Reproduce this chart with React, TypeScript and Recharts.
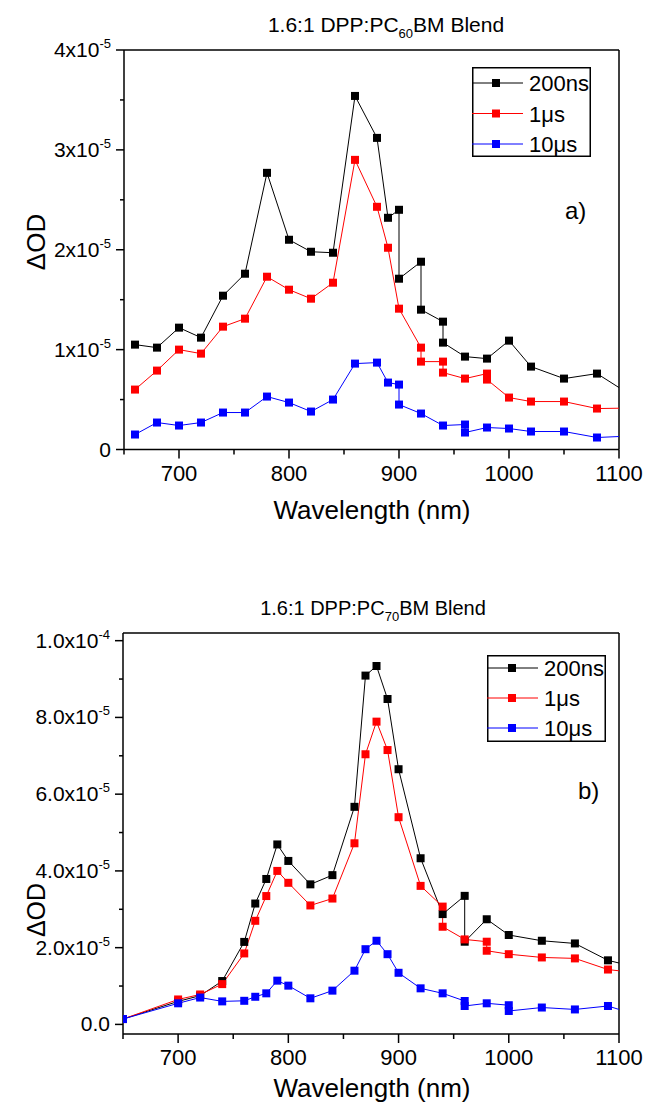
import React from 'react';
import { LineChart, Line, XAxis, YAxis, ReferenceLine, Legend } from 'recharts';

const FONT = '"Liberation Sans", Arial, sans-serif';

// ---- panel a) PC60BM, wavelength in nm, ΔOD in units of 1e-5 ----
const wlA200ns = [660, 680, 700, 720, 740, 760, 780, 800, 820, 840, 860, 880, 890, 900, 900, 920, 920, 940, 940, 960, 980, 1000, 1020, 1050, 1080, 1110];
const odA200ns = [1.05, 1.02, 1.22, 1.12, 1.54, 1.76, 2.77, 2.10, 1.98, 1.97, 3.54, 3.12, 2.32, 2.40, 1.71, 1.88, 1.40, 1.28, 1.07, 0.93, 0.91, 1.09, 0.83, 0.71, 0.76, 0.55];
const wlA1us = [660, 680, 700, 720, 740, 760, 780, 800, 820, 840, 860, 880, 890, 900, 920, 920, 940, 940, 960, 980, 980, 1000, 1020, 1050, 1080, 1110];
const odA1us = [0.60, 0.79, 1.00, 0.96, 1.23, 1.31, 1.73, 1.60, 1.51, 1.67, 2.90, 2.43, 2.02, 1.41, 1.02, 0.88, 0.88, 0.77, 0.71, 0.76, 0.70, 0.52, 0.48, 0.48, 0.41, 0.415];
const wlA10us = [660, 680, 700, 720, 740, 760, 780, 800, 820, 840, 860, 880, 890, 900, 900, 920, 940, 960, 960, 980, 1000, 1020, 1050, 1080, 1110];
const odA10us = [0.15, 0.27, 0.24, 0.27, 0.37, 0.37, 0.53, 0.47, 0.38, 0.50, 0.86, 0.87, 0.67, 0.65, 0.45, 0.36, 0.24, 0.25, 0.17, 0.22, 0.21, 0.18, 0.18, 0.12, 0.135];

// ---- panel b) PC70BM ----
const wlB200ns = [650, 700, 720, 740, 760, 770, 780, 790, 800, 820, 840, 860, 870, 880, 890, 900, 920, 940, 960, 960, 980, 1000, 1030, 1060, 1090, 1120];
const odB200ns = [0.14, 0.60, 0.75, 1.13, 2.15, 3.15, 3.79, 4.69, 4.26, 3.65, 3.89, 5.67, 9.09, 9.34, 8.48, 6.65, 4.33, 2.875, 3.35, 2.155, 2.74, 2.33, 2.18, 2.11, 1.67, 1.46];
const wlB1us = [650, 700, 720, 740, 760, 770, 780, 790, 800, 820, 840, 860, 870, 880, 890, 900, 920, 940, 940, 960, 980, 980, 1000, 1030, 1060, 1090, 1120];
const odB1us = [0.14, 0.65, 0.78, 1.05, 1.85, 2.70, 3.345, 4.00, 3.69, 3.10, 3.28, 4.72, 7.04, 7.89, 7.15, 5.40, 3.61, 3.07, 2.545, 2.215, 2.155, 1.92, 1.83, 1.745, 1.72, 1.43, 1.33];
const wlB10us = [650, 700, 720, 740, 760, 770, 780, 790, 800, 820, 840, 860, 870, 880, 890, 900, 920, 940, 960, 960, 980, 1000, 1000, 1030, 1060, 1090, 1120];
const odB10us = [0.14, 0.55, 0.70, 0.60, 0.615, 0.72, 0.81, 1.14, 1.01, 0.68, 0.88, 1.40, 1.96, 2.18, 1.83, 1.345, 0.94, 0.81, 0.61, 0.48, 0.55, 0.50, 0.35, 0.44, 0.39, 0.48, 0.21];

const seriesNames = ['200ns', '1μs', '10μs'];
const seriesColors = ['#000000', '#ff0000', '#0000ff'];

// ---- ticks ----
const xTicks = [650, 700, 750, 800, 850, 900, 950, 1000, 1050, 1100];
const xMajor = [700, 800, 900, 1000, 1100];
const yTicksA = [0, 0.5, 1, 1.5, 2, 2.5, 3, 3.5, 4];
const yMajorA = [0, 1, 2, 3, 4];
const yBaseA = ['0', '1x10', '2x10', '3x10', '4x10'];
const yExpA = ['', '-5', '-5', '-5', '-5'];
const yTicksB = [0, 1, 2, 3, 4, 5, 6, 7, 8, 9, 10];
const yMajorB = [0, 2, 4, 6, 8, 10];
const yBaseB = ['0.0', '2.0x10', '4.0x10', '6.0x10', '8.0x10', '1.0x10'];
const yExpB = ['', '-5', '-5', '-5', '-5', '-4'];

const toPoints = (wl: number[], od: number[]) => wl.map((w, i) => ({ w, od: od[i] }));

const squareDot = (color: string) => (p: any) => {
  if (p.cx == null || p.cy == null) return <g key={p.index} />;
  return <rect key={p.index} x={p.cx - 4} y={p.cy - 4} width={8} height={8} fill={color} />;
};

const XTick = (props: any) => {
  const { x, y, payload } = props;
  const major = xMajor.includes(payload.value);
  return (
    <g>
      <line x1={x} x2={x} y1={y} y2={y + (major ? 9 : 5)} stroke="#000" strokeWidth={1.5} />
      {major && (
        <text x={x} y={y + 31} textAnchor="middle" fontSize={22} fontFamily={FONT} fill="#000">
          {payload.value}
        </text>
      )}
    </g>
  );
};

const makeYTick = (majors: number[], bases: string[], exps: string[]) => (props: any) => {
  const { x, y, payload } = props;
  const i = majors.indexOf(payload.value);
  return (
    <g>
      <line x1={x - (i >= 0 ? 8 : 4)} x2={x} y1={y} y2={y} stroke="#000" strokeWidth={1.5} />
      {i >= 0 && (
        <text x={x - 13} y={y + 7} textAnchor="end" fontSize={21} fontFamily={FONT} fill="#000">
          {bases[i]}
          {exps[i] && <tspan dy={-9} fontSize={13}>{exps[i]}</tspan>}
        </text>
      )}
    </g>
  );
};

interface LegendPos {
  left: number;
  top: number;
  width: number;
  height: number;
  rows: number[];
  lineEnd: number;
  marker: number;
  textX: number;
}

// legend rows follow the series order (200ns, 1μs, 10μs)
const renderLegend = (pos: LegendPos) => () => (
  <svg width={pos.width} height={pos.height} style={{ display: 'block' }}>
    <rect x={0.75} y={0.75} width={pos.width - 1.5} height={pos.height - 1.5} fill="#fff" stroke="#000" strokeWidth={1.5} />
    {seriesNames.map((name, i) => (
      <g key={name}>
        <line x1={0} x2={pos.lineEnd} y1={pos.rows[i]} y2={pos.rows[i]} stroke={seriesColors[i]} strokeWidth={1} />
        <rect x={pos.marker - 4} y={pos.rows[i] - 4} width={8} height={8} fill={seriesColors[i]} />
        <text x={pos.textX} y={pos.rows[i] + 8} fontSize={22} fontFamily={FONT} fill="#000">
          {name}
        </text>
      </g>
    ))}
  </svg>
);

interface PanelProps {
  data: { w: number; od: number }[][];
  yDomain: [number, number];
  yTicks: number[];
  yTick: (p: any) => React.ReactElement;
  margin: { top: number; right: number; bottom: number; left: number };
  yAxisWidth: number;
  xAxisHeight: number;
  legend: LegendPos;
}

const Panel: React.FC<PanelProps> = ({ data, yDomain, yTicks, yTick, margin, yAxisWidth, xAxisHeight, legend }) => (
  <LineChart width={646} height={555} margin={margin}>
    <XAxis
      dataKey="w"
      type="number"
      domain={[650, 1100]}
      allowDataOverflow
      ticks={xTicks}
      interval={0}
      tickSize={0}
      tickMargin={0}
      tickLine={false}
      tick={XTick}
      height={xAxisHeight}
      axisLine={{ stroke: '#000', strokeWidth: 1.5 }}
    />
    <YAxis
      dataKey="od"
      type="number"
      domain={yDomain}
      allowDataOverflow
      ticks={yTicks}
      interval={0}
      tickSize={0}
      tickMargin={0}
      tickLine={false}
      tick={yTick}
      width={yAxisWidth}
      axisLine={{ stroke: '#000', strokeWidth: 1.5 }}
    />
    <ReferenceLine y={yDomain[1]} stroke="#000" strokeWidth={1.5} />
    <ReferenceLine x={1100} stroke="#000" strokeWidth={1.5} />
    {data.map((pts, i) => (
      <Line
        key={seriesNames[i]}
        data={pts}
        dataKey="od"
        name={seriesNames[i]}
        type="linear"
        stroke={seriesColors[i]}
        strokeWidth={1}
        dot={squareDot(seriesColors[i])}
        activeDot={false}
        isAnimationActive={false}
      />
    ))}
    <Legend
      layout="vertical"
      align="center"
      verticalAlign="middle"
      content={renderLegend(legend)}
      wrapperStyle={{ left: legend.left, top: legend.top, width: legend.width, height: legend.height }}
    />
  </LineChart>
);

export default function App() {
  const dataA = [toPoints(wlA200ns, odA200ns), toPoints(wlA1us, odA1us), toPoints(wlA10us, odA10us)];
  const dataB = [toPoints(wlB200ns, odB200ns), toPoints(wlB1us, odB1us), toPoints(wlB10us, odB10us)];

  return (
    <div style={{ position: 'absolute', left: 0, top: 0, width: 646, height: 1110, background: '#fff', fontFamily: FONT }}>
      <div style={{ position: 'absolute', left: 0, top: 0 }}>
        <Panel
          data={dataA}
          yDomain={[0, 4]}
          yTicks={yTicksA}
          yTick={makeYTick(yMajorA, yBaseA, yExpA)}
          margin={{ top: 50, right: 27, bottom: 25.5, left: 0 }}
          yAxisWidth={124}
          xAxisHeight={80}
          legend={{ left: 472, top: 67, width: 119, height: 90, rows: [16, 46.5, 77], lineEnd: 51, marker: 24, textX: 57 }}
        />
      </div>
      <div style={{ position: 'absolute', left: 0, top: 555 }}>
        <Panel
          data={dataB}
          yDomain={[-0.25, 10.2]}
          yTicks={yTicksB}
          yTick={makeYTick(yMajorB, yBaseB, yExpB)}
          margin={{ top: 78, right: 27, bottom: 0, left: 0 }}
          yAxisWidth={123}
          xAxisHeight={76}
          legend={{ left: 487, top: 100, width: 119, height: 87, rows: [13, 43, 73], lineEnd: 51, marker: 25, textX: 57 }}
        />
      </div>
      <svg width={646} height={1110} style={{ position: 'absolute', left: 0, top: 0, pointerEvents: 'none' }} fontFamily={FONT}>
        <text x={386} y={32} fontSize={21} textAnchor="middle" fill="#000">
          1.6:1 DPP:PC<tspan fontSize={13} dy={6}>60</tspan>
          <tspan dy={-6}>BM Blend</tspan>
        </text>
        <text x={373} y={615} fontSize={20} textAnchor="middle" fill="#000">
          1.6:1 DPP:PC<tspan fontSize={13} dy={6}>70</tspan>
          <tspan dy={-6}>BM Blend</tspan>
        </text>
        <text x={372} y={519} fontSize={26} textAnchor="middle" fill="#000">Wavelength (nm)</text>
        <text x={372} y={1097} fontSize={26} textAnchor="middle" fill="#000">Wavelength (nm)</text>
        <text transform="translate(45,242) rotate(-90)" fontSize={26} textAnchor="middle" fill="#000">ΔOD</text>
        <text transform="translate(45,910) rotate(-90)" fontSize={25} textAnchor="middle" fill="#000">ΔOD</text>
        <text x={565} y={219} fontSize={24} fill="#000">a)</text>
        <text x={578} y={799} fontSize={24} fill="#000">b)</text>
      </svg>
    </div>
  );
}
